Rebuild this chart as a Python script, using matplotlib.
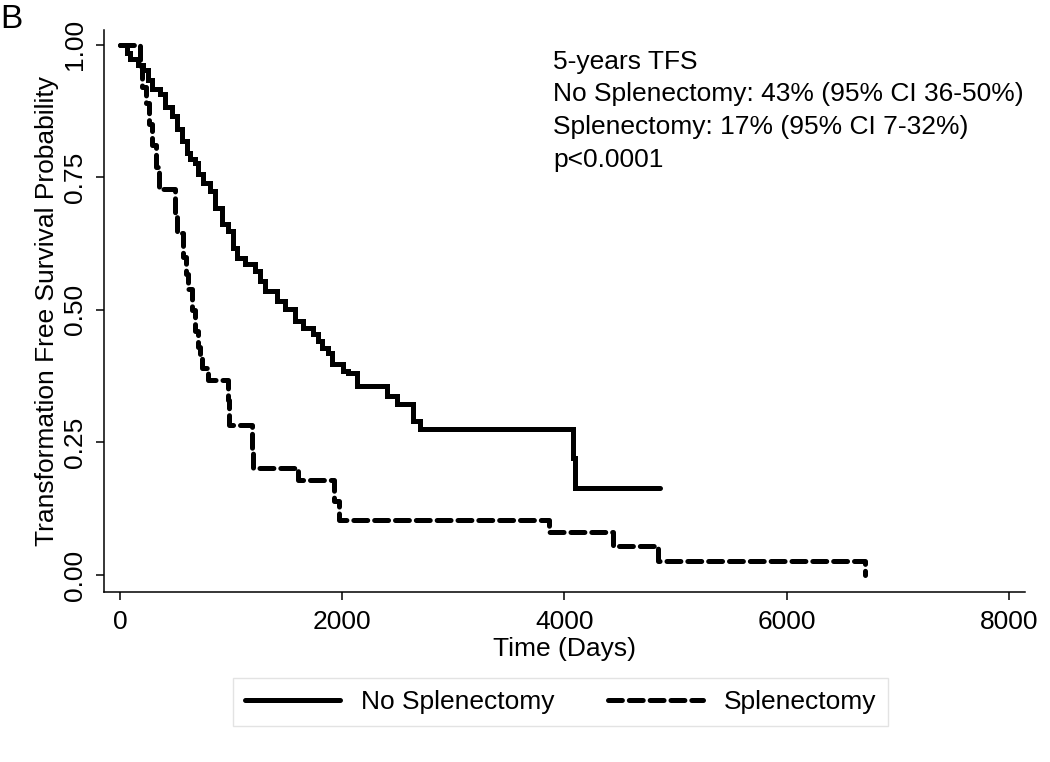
import matplotlib
matplotlib.use("Agg")
import matplotlib.pyplot as plt

# -----------------------------
# data (event time, survival after event)
# -----------------------------
no_splen_time = [0, 60, 90, 160, 207, 252, 288, 360, 405, 468, 513, 558, 600, 630,
                 675, 702, 747, 810, 855, 918, 972, 1017, 1053, 1125, 1215, 1260,
                 1305, 1413, 1485, 1575, 1650, 1737, 1782, 1818, 1872, 1908, 2007,
                 2052, 2133, 2400, 2490, 2640, 2700, 4080, 4095, 4860]
no_splen_surv = [1.0, 0.985, 0.972, 0.962, 0.953, 0.934, 0.917, 0.906, 0.883, 0.865,
                 0.84, 0.818, 0.795, 0.784, 0.776, 0.756, 0.739, 0.724, 0.692, 0.662,
                 0.648, 0.617, 0.598, 0.586, 0.573, 0.555, 0.536, 0.517, 0.502, 0.479,
                 0.466, 0.455, 0.442, 0.429, 0.419, 0.398, 0.385, 0.38, 0.357, 0.338,
                 0.323, 0.291, 0.276, 0.22, 0.164, 0.164]

splen_time = [0, 180, 200, 230, 260, 290, 320, 350, 495, 515, 570, 590, 612, 650,
              675, 700, 720, 740, 790, 970, 980, 1190, 1200, 1600, 1930, 1975, 3860,
              4435, 4840, 6705]
splen_surv = [1.0, 0.96, 0.92, 0.89, 0.85, 0.81, 0.77, 0.727, 0.68, 0.645, 0.60, 0.567,
              0.54, 0.50, 0.46, 0.43, 0.41, 0.39, 0.368, 0.33, 0.282, 0.24, 0.201, 0.179,
              0.14, 0.103, 0.081, 0.055, 0.026, 0.0]

x_ticks = [0, 2000, 4000, 6000, 8000]
y_ticks = [0.0, 0.25, 0.5, 0.75, 1.0]
y_ticklabels = ["0.00", "0.25", "0.50", "0.75", "1.00"]

annot_lines = ["5-years TFS",
               "No Splenectomy: 43% (95% CI 36-50%)",
               "Splenectomy: 17% (95% CI 7-32%)",
               "p<0.0001"]

plt.rcParams["font.family"] = ["Liberation Sans", "DejaVu Sans"]
plt.rcParams["lines.scale_dashes"] = False

fig = plt.figure(figsize=(10.5, 7.62), dpi=100)
ax = fig.add_axes([0.099, 0.223, 0.877, 0.738])

ax.plot(no_splen_time, no_splen_surv, drawstyle="steps-post", color="black",
        lw=3.6, solid_capstyle="round", solid_joinstyle="miter",
        label="No Splenectomy")
ax.plot(splen_time, splen_surv, drawstyle="steps-post", color="black",
        lw=3.6, dashes=(10, 5), dash_capstyle="round",
        label="Splenectomy")

ax.set_xlim(-144, 8144)
ax.set_ylim(-0.032, 1.028)
ax.set_xticks(x_ticks)
ax.set_yticks(y_ticks)
ax.set_yticklabels(y_ticklabels, rotation=90, va="center")
ax.tick_params(axis="both", labelsize=19, length=6, width=1.1, direction="out")
ax.tick_params(axis="x", pad=7)
ax.tick_params(axis="y", pad=6)

for side in ["top", "right"]:
    ax.spines[side].set_visible(False)
for side in ["left", "bottom"]:
    ax.spines[side].set_linewidth(1.1)

ax.set_xlabel("Time (Days)", fontsize=19, labelpad=2)
ax.set_ylabel("Transformation Free Survival Probability", fontsize=19, labelpad=3)

for i, line in enumerate(annot_lines):
    ax.text(3900, 0.968 - i * 0.062, line, fontsize=19, va="center", ha="left")

fig.text(0.0, 0.995, "B", fontsize=24, va="top", ha="left")

fig.legend(loc="center", bbox_to_anchor=(0.534, 0.079), ncol=2, fontsize=19,
           frameon=True, fancybox=False, edgecolor="#dddddd", handlelength=3.6,
           handletextpad=0.8, columnspacing=2.0, borderpad=0.45)

plt.savefig("out.png", dpi=100)
